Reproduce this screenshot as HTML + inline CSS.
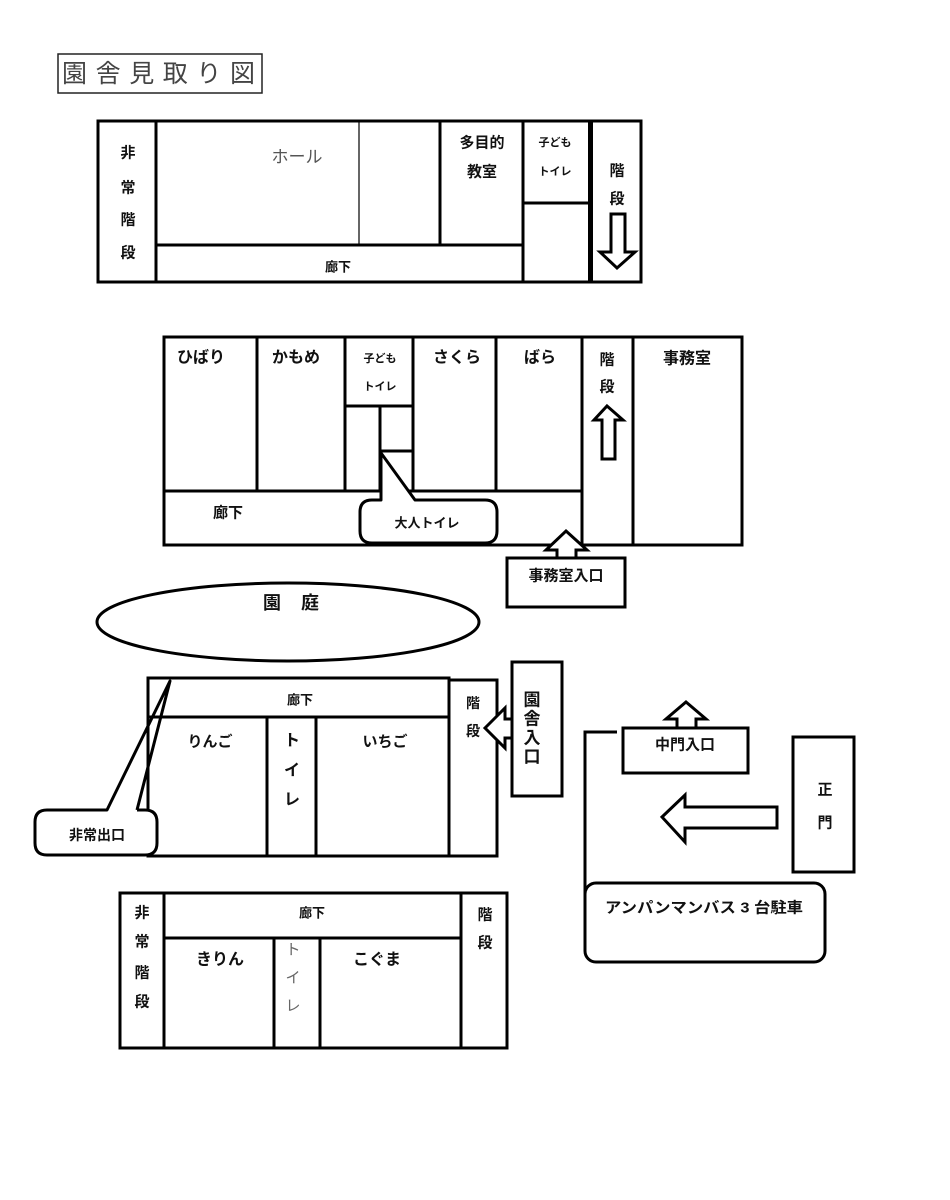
<!DOCTYPE html>
<html>
<head>
<meta charset="utf-8">
<style>
html,body{margin:0;padding:0;background:#fff;}
svg{display:block;}
text{font-family:"Liberation Sans","Noto Sans CJK JP",sans-serif;dominant-baseline:central;text-anchor:middle;fill:#111;}
.b{font-weight:bold;}
</style>
</head>
<body>
<svg width="950" height="1200" viewBox="0 0 950 1200" xmlns="http://www.w3.org/2000/svg">
<rect width="950" height="1200" fill="#fff"/>

<!-- Title -->
<rect x="58" y="54" width="204" height="39" fill="none" stroke="#222" stroke-width="1.5"/>
<text x="62" y="74" style="text-anchor:start;font-size:25px;fill:#444" textLength="193" lengthAdjust="spacing">園舎見取り図</text>

<g stroke="#000" stroke-width="3" fill="none">
<!-- Top block -->
<rect x="98" y="121" width="543" height="161"/>
<line x1="156" y1="121" x2="156" y2="282"/>
<line x1="156" y1="245" x2="523" y2="245"/>
<line x1="440" y1="121" x2="440" y2="245"/>
<line x1="523" y1="121" x2="523" y2="282"/>
<line x1="523" y1="203" x2="588" y2="203"/>
<line x1="590.5" y1="121" x2="590.5" y2="282" stroke-width="5"/>
<polygon points="611,214 625,214 625,252 635,252 617,268 600,252 611,252" fill="#fff"/>

<!-- Middle block -->
<rect x="164" y="337" width="578" height="208"/>
<line x1="257" y1="337" x2="257" y2="491"/>
<line x1="345" y1="337" x2="345" y2="491"/>
<line x1="413" y1="337" x2="413" y2="491"/>
<line x1="496" y1="337" x2="496" y2="491"/>
<line x1="582" y1="337" x2="582" y2="545"/>
<line x1="633" y1="337" x2="633" y2="545"/>
<line x1="164" y1="491" x2="582" y2="491"/>
<line x1="345" y1="406" x2="413" y2="406"/>
<line x1="380" y1="406" x2="380" y2="491"/>
<line x1="380" y1="451" x2="413" y2="451"/>
<path d="M381,453 L381,500 L372,500 Q360,500 360,512 L360,531 Q360,543 372,543 L485,543 Q497,543 497,531 L497,512 Q497,500 485,500 L415,500 Z" fill="#fff" stroke-linejoin="round"/>
<polygon points="607,406 623,420 615,420 615,459 602,459 602,420 594,420" fill="#fff"/>
<polygon points="566,531 587,550 576,550 576,558 557,558 557,550 546,550" fill="#fff"/>
<rect x="507" y="558" width="118" height="49" fill="#fff"/>

<!-- Garden -->
<ellipse cx="288" cy="622" rx="191" ry="39"/>

<!-- Third block -->
<rect x="148" y="678" width="301" height="39"/>
<rect x="148" y="717" width="301" height="139"/>
<line x1="267" y1="717" x2="267" y2="856"/>
<line x1="316" y1="717" x2="316" y2="856"/>
<rect x="449" y="680" width="48" height="176"/>
<rect x="512" y="662" width="50" height="134"/>
<polygon points="485,728 505,708 505,719 512,719 512,738 505,738 505,748" fill="#fff"/>
<path d="M47,810 Q35,810 35,822 L35,843 Q35,855 47,855 L145,855 Q157,855 157,843 L157,822 Q157,810 145,810 Z" fill="#fff" stroke="none"/>
<path d="M137,810 L170,681 L107,810 L47,810 Q35,810 35,822 L35,843 Q35,855 47,855 L145,855 Q157,855 157,843 L157,822 Q157,810 145,810 L137,810" stroke-linejoin="round"/>

<!-- Right side -->
<polyline points="617,732 585,732 585,895"/>
<rect x="623" y="728" width="125" height="45"/>
<polygon points="686,702 706,719 696,719 696,728 677,728 677,719 666,719" fill="#fff"/>
<rect x="793" y="737" width="61" height="135"/>
<polygon points="662,817 685,795 685,807 777,807 777,828 685,828 685,842" fill="#fff"/>
<rect x="585" y="883" width="240" height="79" rx="11" ry="11" fill="#fff"/>

<!-- Bottom block -->
<rect x="120" y="893" width="387" height="155"/>
<line x1="164" y1="893" x2="164" y2="1048"/>
<line x1="461" y1="893" x2="461" y2="1048"/>
<line x1="164" y1="938" x2="461" y2="938"/>
<line x1="274" y1="938" x2="274" y2="1048"/>
<line x1="320" y1="938" x2="320" y2="1048"/>
</g>
<line x1="359" y1="121" x2="359" y2="245" stroke="#000" stroke-width="1.2"/>

<!-- Top block text -->
<g class="b" style="font-size:15px">
<text class="b" x="128" y="153">非</text>
<text class="b" x="128" y="188">常</text>
<text class="b" x="128" y="220">階</text>
<text class="b" x="128" y="253">段</text>
<text class="b" x="482" y="143">多目的</text>
<text class="b" x="482" y="172">教室</text>
<text class="b" x="617" y="171">階</text>
<text class="b" x="617" y="199">段</text>
</g>
<text x="297" y="157" style="font-size:17px;fill:#555">ホール</text>
<text class="b" x="338" y="267" style="font-size:13px">廊下</text>
<text class="b" x="555" y="143" style="font-size:11px">子ども</text>
<text class="b" x="555" y="172" style="font-size:11px">トイレ</text>

<!-- Middle block text -->
<text class="b" x="201" y="358" style="font-size:16px">ひばり</text>
<text class="b" x="296" y="358" style="font-size:16px">かもめ</text>
<text class="b" x="457" y="358" style="font-size:16px">さくら</text>
<text class="b" x="540" y="358" style="font-size:16px">ばら</text>
<text class="b" x="687" y="359" style="font-size:16px">事務室</text>
<text class="b" x="380" y="359" style="font-size:11px">子ども</text>
<text class="b" x="380" y="387" style="font-size:11px">トイレ</text>
<text class="b" x="607" y="360" style="font-size:15px">階</text>
<text class="b" x="607" y="387" style="font-size:15px">段</text>
<text class="b" x="228" y="513" style="font-size:15px">廊下</text>
<text class="b" x="427" y="523" style="font-size:13px">大人トイレ</text>
<text class="b" x="566" y="576" style="font-size:15px">事務室入口</text>
<text class="b" x="272" y="603" style="font-size:18px">園</text>
<text class="b" x="310" y="603" style="font-size:18px">庭</text>

<!-- Third block text -->
<text class="b" x="300" y="700" style="font-size:13px">廊下</text>
<text class="b" x="210" y="742" style="font-size:15px">りんご</text>
<text class="b" x="385" y="742" style="font-size:15px">いちご</text>
<text class="b" x="292" y="741" style="font-size:16px">ト</text>
<text class="b" x="292" y="771" style="font-size:16px">イ</text>
<text class="b" x="292" y="800" style="font-size:16px">レ</text>
<text class="b" x="473" y="703" style="font-size:14px">階</text>
<text class="b" x="473" y="731" style="font-size:14px">段</text>
<text class="b" x="532" y="700" style="font-size:17px">園</text>
<text class="b" x="532" y="719" style="font-size:17px">舎</text>
<text class="b" x="532" y="738" style="font-size:17px">入</text>
<text class="b" x="532" y="757" style="font-size:17px">口</text>
<text class="b" x="97" y="835" style="font-size:14px">非常出口</text>

<!-- Right side text -->
<text class="b" x="685" y="745" style="font-size:15px">中門入口</text>
<text class="b" x="825" y="790" style="font-size:15px">正</text>
<text class="b" x="825" y="823" style="font-size:15px">門</text>
<text class="b" x="605" y="908" style="text-anchor:start;font-size:15px" textLength="198" lengthAdjust="spacingAndGlyphs">アンパンマンバス 3 台駐車</text>

<!-- Bottom block text -->
<text class="b" x="142" y="913" style="font-size:15px">非</text>
<text class="b" x="142" y="942" style="font-size:15px">常</text>
<text class="b" x="142" y="973" style="font-size:15px">階</text>
<text class="b" x="142" y="1002" style="font-size:15px">段</text>
<text class="b" x="312" y="913" style="font-size:13px">廊下</text>
<text class="b" x="485" y="915" style="font-size:15px">階</text>
<text class="b" x="485" y="943" style="font-size:15px">段</text>
<text class="b" x="220" y="960" style="font-size:16px">きりん</text>
<text class="b" x="377" y="960" style="font-size:16px">こぐま</text>
<text x="293" y="950" style="font-size:15px;fill:#666">ト</text>
<text x="293" y="978" style="font-size:15px;fill:#666">イ</text>
<text x="293" y="1006" style="font-size:15px;fill:#666">レ</text>
</svg>
</body>
</html>
